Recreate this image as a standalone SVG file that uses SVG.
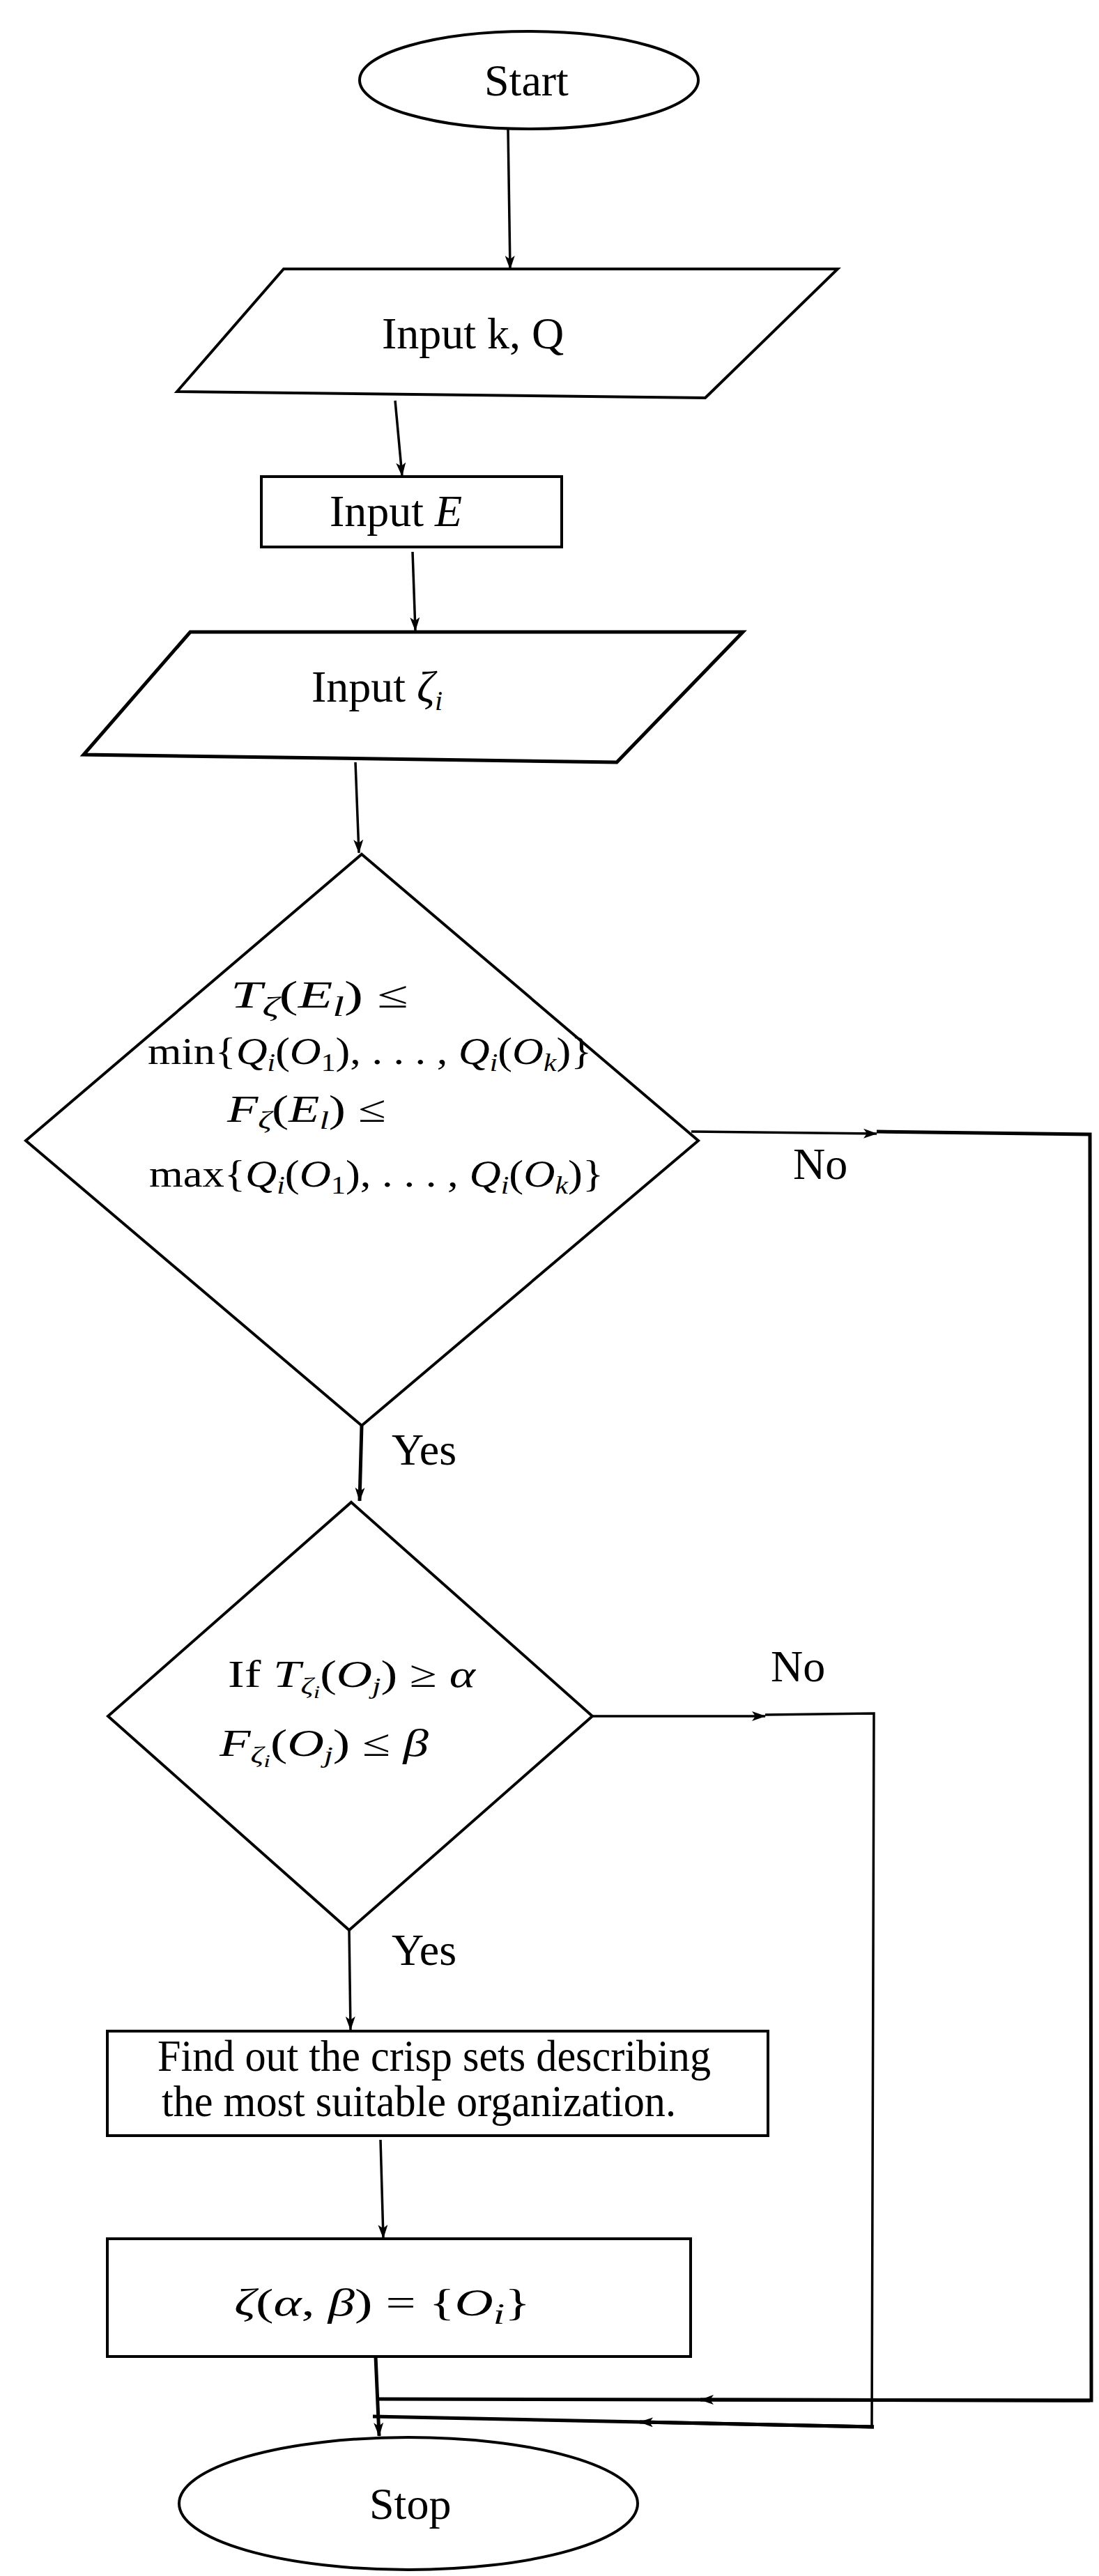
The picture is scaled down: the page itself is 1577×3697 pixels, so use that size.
<svg xmlns="http://www.w3.org/2000/svg" width="1577" height="3697" viewBox="0 0 1577 3697">
<style>
.s{fill:#fff;stroke:#000;stroke-width:4}
.t{font-family:"Liberation Serif",serif;font-size:64px;fill:#000}
.m{font-family:"Liberation Serif",serif;font-size:54px;fill:#000}
.i{font-style:italic}
.c{fill:none;stroke:#000;stroke-width:3.5}
.k{fill:none;stroke:#000;stroke-width:5}
</style>
<defs>
<marker id="a" viewBox="0 0 20 14" refX="19" refY="7" markerWidth="20" markerHeight="14" markerUnits="userSpaceOnUse" orient="auto">
<path d="M0,0 L20,7 L0,14 L5,7 Z" fill="#000"/>
</marker>
</defs>
<g id="connectors">
<path class="c" d="M729,186 L732,386" marker-end="url(#a)"/>
<path class="c" d="M567,575 L577,683" marker-end="url(#a)"/>
<path class="c" d="M592,792 L596,905" marker-end="url(#a)"/>
<path class="c" d="M510,1094 L515,1224" marker-end="url(#a)"/>
<path class="k" d="M519,2046 L516,2154" marker-end="url(#a)"/>
<path class="c" d="M992,1624 L1258,1627" marker-end="url(#a)"/>
<path class="k" d="M1258,1624 L1564,1628 L1566,3445 L544,3443"/>
<path class="k" d="M1564,3445 L1005,3444" marker-end="url(#a)"/>
<path class="c" d="M850,2463 L1098,2463" marker-end="url(#a)"/>
<path class="c" d="M1098,2461 L1254,2459 L1251,3483"/>
<path class="k" d="M1254,3483 L535,3468"/>
<path class="k" d="M1254,3483 L918,3476" marker-end="url(#a)"/>
<path class="c" d="M501,2770 L503,2913" marker-end="url(#a)"/>
<path class="c" d="M546,3071 L550,3212" marker-end="url(#a)"/>
<path class="k" d="M539,3382 L544,3496" marker-end="url(#a)"/>
</g>
<g id="start"><ellipse class="s" cx="759" cy="115" rx="243" ry="70"/><text class="t" x="695" y="137">Start</text></g>
<g id="inputKQ"><path class="s" d="M407,386 L1202,386 L1012,571 L254,562 Z"/><text class="t" x="548" y="500">Input k, Q</text></g>
<g id="inputE"><rect class="s" x="375" y="684" width="431" height="101"/><text class="t" x="473" y="755">Input <tspan class="i">E</tspan></text></g>
<g id="inputZeta"><path class="s" d="M273,907 L1066,907 L885,1094 L120,1083 Z" style="stroke-width:5"/><text class="t" x="447" y="1007">Input <tspan class="i">ζ</tspan><tspan class="i" font-size="40" dy="12">i</tspan></text></g>
<g id="decision1"><path class="s" d="M519,1226 L1002,1637 L519,2046 L37,1637 Z"/>
<text class="m" x="331" y="1446" font-size="66" textLength="255" lengthAdjust="spacingAndGlyphs"><tspan class="i">T</tspan><tspan class="i" font-size="40" dy="12">ζ</tspan><tspan dy="-12">(</tspan><tspan class="i">E</tspan><tspan class="i" font-size="40" dy="12">l</tspan><tspan dy="-12">) ≤</tspan></text>
<text class="m" x="212" y="1527" textLength="637" lengthAdjust="spacingAndGlyphs">min{<tspan class="i">Q</tspan><tspan class="i" font-size="36" dy="10">i</tspan><tspan dy="-10">(</tspan><tspan class="i">O</tspan><tspan font-size="36" dy="10">1</tspan><tspan dy="-10">), . . . , </tspan><tspan class="i">Q</tspan><tspan class="i" font-size="36" dy="10">i</tspan><tspan dy="-10">(</tspan><tspan class="i">O</tspan><tspan class="i" font-size="36" dy="10">k</tspan><tspan dy="-10">)}</tspan></text>
<text class="m" x="326" y="1610" textLength="228" lengthAdjust="spacingAndGlyphs"><tspan class="i">F</tspan><tspan class="i" font-size="36" dy="10">ζ</tspan><tspan dy="-10">(</tspan><tspan class="i">E</tspan><tspan class="i" font-size="36" dy="10">l</tspan><tspan dy="-10">) ≤</tspan></text>
<text class="m" x="214" y="1703" textLength="652" lengthAdjust="spacingAndGlyphs">max{<tspan class="i">Q</tspan><tspan class="i" font-size="36" dy="10">i</tspan><tspan dy="-10">(</tspan><tspan class="i">O</tspan><tspan font-size="36" dy="10">1</tspan><tspan dy="-10">), . . . , </tspan><tspan class="i">Q</tspan><tspan class="i" font-size="36" dy="10">i</tspan><tspan dy="-10">(</tspan><tspan class="i">O</tspan><tspan class="i" font-size="36" dy="10">k</tspan><tspan dy="-10">)}</tspan></text>
</g>
<g id="decision2"><path class="s" d="M504,2156 L850,2463 L501,2770 L155,2463 Z"/>
<text class="m" x="327" y="2421" textLength="355" lengthAdjust="spacingAndGlyphs">If <tspan class="i">T</tspan><tspan class="i" font-size="34" dy="10">ζ</tspan><tspan class="i" font-size="26" dy="6">i</tspan><tspan dy="-16">(</tspan><tspan class="i">O</tspan><tspan class="i" font-size="34" dy="10">j</tspan><tspan dy="-10">) ≥ </tspan><tspan class="i">α</tspan></text>
<text class="m" x="315" y="2520" textLength="300" lengthAdjust="spacingAndGlyphs"><tspan class="i">F</tspan><tspan class="i" font-size="34" dy="10">ζ</tspan><tspan class="i" font-size="26" dy="6">i</tspan><tspan dy="-16">(</tspan><tspan class="i">O</tspan><tspan class="i" font-size="34" dy="10">j</tspan><tspan dy="-10">) ≤ </tspan><tspan class="i">β</tspan></text>
</g>
<g id="labels">
<text class="t" x="1138" y="1692">No</text>
<text class="t" x="562" y="2102">Yes</text>
<text class="t" x="1106" y="2413">No</text>
<text class="t" x="562" y="2820">Yes</text>
</g>
<g id="find"><rect class="s" x="154" y="2915" width="948" height="150"/>
<text class="t" x="226" y="2972" textLength="794" lengthAdjust="spacingAndGlyphs">Find out the crisp sets describing</text>
<text class="t" x="232" y="3037" textLength="738" lengthAdjust="spacingAndGlyphs">the most suitable organization.</text></g>
<g id="result"><rect class="s" x="154" y="3213" width="837" height="169"/>
<text class="m" x="336" y="3323" font-size="66" textLength="425" lengthAdjust="spacingAndGlyphs"><tspan class="i">ζ</tspan>(<tspan class="i">α</tspan>, <tspan class="i">β</tspan>) = {<tspan class="i">O</tspan><tspan class="i" font-size="42" dy="12">i</tspan><tspan dy="-12">}</tspan></text></g>
<g id="stop"><ellipse class="s" cx="586" cy="3593" rx="329" ry="95"/><text class="t" x="530" y="3615">Stop</text></g>
</svg>
